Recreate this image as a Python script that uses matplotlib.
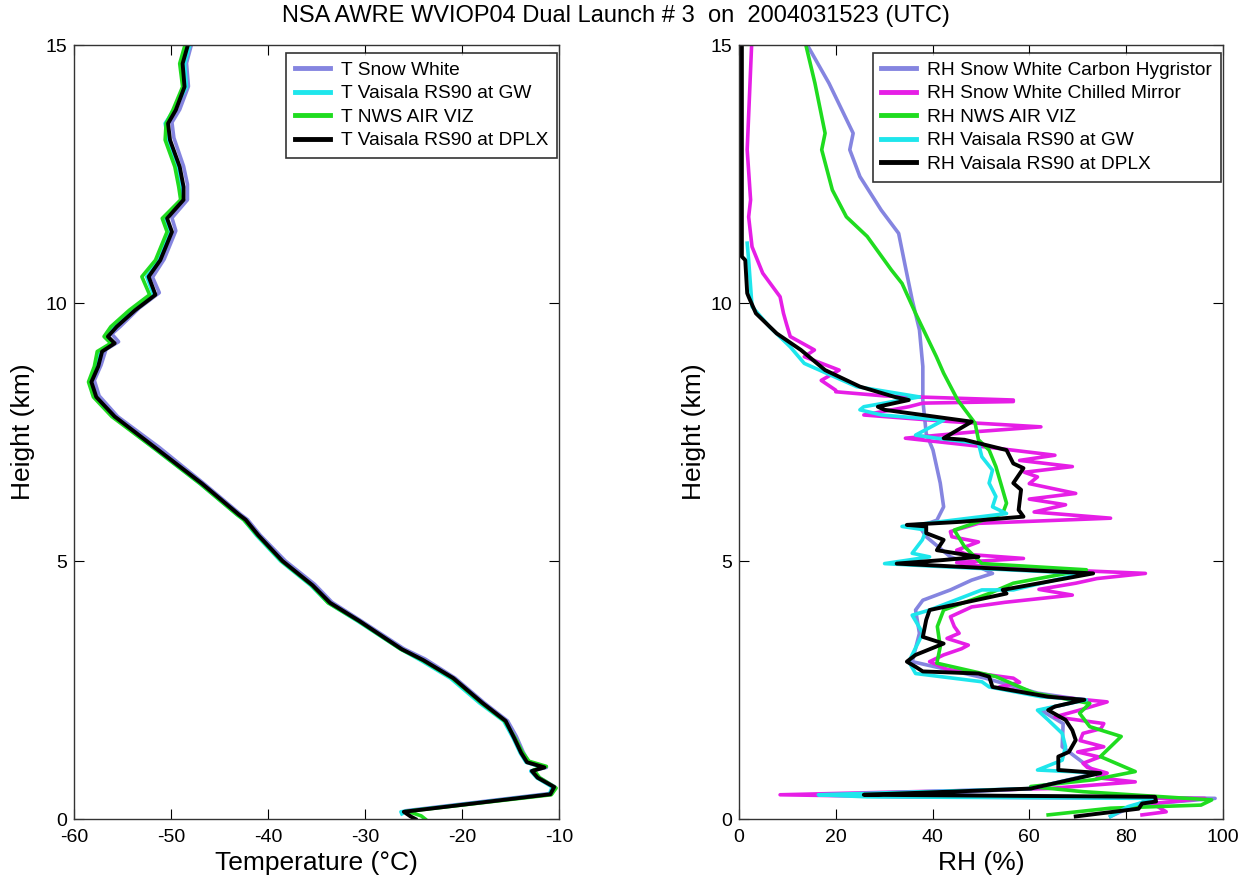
import matplotlib
matplotlib.use("Agg")
import matplotlib.pyplot as plt

plt.rcParams["font.family"] = ["Liberation Sans", "DejaVu Sans"]
plt.rcParams["axes.unicode_minus"] = False

# ---- temperature profiles (height km, T degC) ----
h_dplx = [0.0, 0.05, 0.14, 0.48, 0.62, 0.8, 0.93, 1.0, 1.1, 1.28, 1.56, 1.9, 2.25, 2.73,
          3.08, 3.29, 3.84, 4.19, 4.53, 5.0, 5.5, 5.8, 5.9, 6.5, 7.18, 7.8, 8.18, 8.47,
          8.77, 9.06, 9.22, 9.35, 9.54, 9.86, 10.16, 10.51, 10.83, 11.38, 11.64, 12.0,
          12.25, 12.64, 13.16, 13.48, 13.74, 14.19, 14.64, 14.97]
t_dplx = [-24.8, -25.3, -26.0, -10.9, -10.5, -12.2, -12.8, -11.5, -13.3, -13.9, -14.6,
          -15.5, -17.9, -20.9, -24.0, -26.2, -30.6, -33.6, -35.4, -38.5, -41.0, -42.3,
          -43.0, -46.8, -51.5, -55.8, -57.7, -58.2, -57.5, -57.1, -55.8, -56.5, -55.6,
          -53.7, -51.6, -52.3, -51.1, -49.9, -50.4, -48.7, -48.7, -49.1, -50.1, -50.3,
          -49.5, -48.6, -48.8, -48.3]

h_sw = [0.1, 0.16, 0.5, 0.62, 0.8, 0.93, 1.0, 1.1, 1.3, 1.6, 1.9, 2.25, 2.73, 3.1, 3.3,
        3.84, 4.2, 4.55, 5.0, 5.5, 5.8, 5.9, 6.5, 7.2, 7.8, 8.2, 8.5, 8.8, 9.1, 9.25,
        9.4, 9.55, 9.9, 10.2, 10.5, 10.85, 11.4, 11.65, 12.0, 12.3, 12.65, 13.2, 13.5,
        13.75, 14.2, 14.65, 15.0]
t_sw = [-25.4, -25.8, -10.7, -10.4, -12.0, -12.9, -11.3, -13.1, -13.7, -14.4, -15.3,
        -17.7, -20.7, -23.8, -26.0, -30.4, -33.4, -35.2, -38.2, -40.8, -42.1, -42.8,
        -46.6, -51.2, -55.5, -57.4, -57.9, -57.2, -56.7, -55.4, -56.1, -55.2, -53.3,
        -51.2, -51.9, -50.7, -49.5, -49.9, -48.3, -48.3, -48.7, -49.7, -49.9, -49.1,
        -48.2, -48.4, -47.9]

h_gw = [0.1, 0.14, 0.48, 0.62, 0.8, 0.93, 1.0, 1.1, 1.28, 1.56, 1.9, 2.25, 2.73, 3.08,
        3.3, 3.84, 4.19, 4.53, 5.0, 5.5, 5.8, 5.9, 6.5, 7.18, 7.8, 8.18, 8.47, 8.77,
        9.06, 9.22, 9.35, 9.54, 9.86, 10.16, 10.51, 10.83, 11.38, 11.64, 12.0, 12.25,
        12.64, 13.16, 13.48, 13.74, 14.19, 14.64, 14.97]
t_gw = [-26.2, -26.3, -11.0, -10.7, -12.3, -12.9, -11.7, -13.4, -14.0, -14.7, -15.7,
        -18.2, -21.2, -24.3, -26.4, -30.8, -33.8, -35.6, -38.7, -41.2, -42.5, -43.2,
        -47.0, -51.7, -56.0, -57.9, -58.4, -57.8, -57.4, -56.0, -56.8, -55.9, -53.9,
        -51.8, -52.5, -51.3, -50.1, -50.6, -48.9, -48.9, -49.3, -50.3, -50.6, -49.7,
        -48.4, -48.6, -48.1]

h_nws = [0.0, 0.06, 0.15, 0.47, 0.6, 0.8, 0.95, 1.02, 1.12, 1.3, 1.56, 1.9, 2.25, 2.73,
         3.08, 3.29, 3.84, 4.19, 4.53, 5.0, 5.5, 5.8, 5.9, 6.5, 7.18, 7.8, 8.18, 8.47,
         8.77, 9.06, 9.22, 9.35, 9.54, 9.86, 10.16, 10.51, 10.83, 11.38, 11.64, 12.0,
         12.25, 12.64, 13.16, 13.48, 13.74, 14.19, 14.64, 14.97]
t_nws = [-23.8, -24.2, -25.6, -10.8, -10.3, -12.0, -12.6, -11.3, -13.1, -13.8, -14.5,
         -15.6, -18.0, -21.0, -24.1, -26.3, -30.7, -33.8, -35.5, -38.6, -41.1, -42.5,
         -43.2, -47.0, -51.7, -56.1, -58.0, -58.5, -57.9, -57.6, -56.2, -56.9, -56.2,
         -54.3, -52.2, -53.0, -51.6, -50.4, -50.9, -49.0, -49.2, -49.6, -50.6, -50.5,
         -49.8, -48.8, -49.1, -48.6]

# ---- relative humidity profiles (height km, RH %) ----
h_rh_hyg = [0.05, 0.27, 0.4, 0.47, 0.59, 0.89, 1.4, 1.85, 2.11, 2.31, 2.44, 2.73, 3.05,
            3.6, 4.05, 4.24, 4.44, 4.63, 4.76, 4.89, 5.08, 5.47, 5.67, 5.79, 6.05, 6.51,
            7.15, 7.47, 8.12, 8.77, 9.48, 10.06, 10.7, 11.35, 11.8, 12.45, 12.97, 13.29,
            14.26, 14.97]
rh_hyg = [76.8, 81.9, 98.4, 35.1, 60.3, 74.0, 66.8, 67.0, 62.4, 71.1, 61.7, 50.9, 35.8,
          37.3, 36.5, 38.0, 43.7, 48.1, 52.4, 49.5, 43.7, 38.7, 37.3, 40.9, 42.3, 41.6,
          40.1, 38.7, 38.0, 38.0, 37.3, 35.8, 34.4, 33.0, 29.4, 25.0, 22.9, 23.6, 18.6,
          14.3]

h_rh_cm = [0.08, 0.14, 0.3, 0.4, 0.43, 0.47, 0.59, 0.72, 0.8, 0.89, 1.0, 1.08, 1.2, 1.3,
           1.4, 1.52, 1.66, 1.75, 1.85, 1.98, 2.1, 2.27, 2.4, 2.56, 2.65, 2.73, 2.9, 3.05,
           3.18, 3.3, 3.37, 3.5, 3.6, 3.73, 3.92, 4.11, 4.2, 4.34, 4.45, 4.57, 4.66, 4.76,
           4.89, 4.97, 5.05, 5.13, 5.21, 5.37, 5.47, 5.57, 5.73, 5.83, 5.95, 6.09, 6.2,
           6.31, 6.5, 6.63, 6.72, 6.83, 6.95, 7.05, 7.2, 7.38, 7.51, 7.6, 7.7, 7.83, 7.99,
           8.06, 8.09, 8.12, 8.2, 8.28, 8.31, 8.5, 8.7, 8.96, 9.09, 9.35, 9.6, 9.8, 10.12,
           10.58, 11.09, 11.67, 12.0, 12.97, 14.97]
rh_cm = [83.3, 88.3, 85.5, 96.3, 35.1, 8.5, 63.9, 81.9, 74.0, 76.1, 72.0, 71.1, 74.5,
         70.0, 75.4, 70.5, 71.1, 74.8, 75.4, 65.3, 70.0, 76.1, 62.0, 53.8, 58.0, 56.7,
         43.0, 39.4, 42.3, 46.0, 47.4, 43.0, 45.5, 44.5, 43.7, 48.1, 55.0, 68.9, 62.0,
         69.6, 74.0, 84.0, 51.0, 45.0, 58.8, 47.0, 45.0, 49.5, 44.0, 43.7, 49.5, 76.8,
         61.0, 67.5, 60.0, 69.6, 60.0, 61.7, 59.0, 68.9, 58.0, 65.3, 52.0, 34.4, 49.5,
         62.4, 44.0, 25.8, 35.1, 38.0, 56.7, 56.7, 30.0, 20.0, 20.0, 17.0, 20.7, 13.5,
         15.6, 10.6, 9.8, 9.2, 8.5, 4.9, 2.7, 2.0, 2.4, 1.7, 2.6]

h_rh_nws = [0.08, 0.21, 0.27, 0.37, 0.53, 0.63, 0.76, 0.92, 1.21, 1.6, 1.79, 2.05, 2.24,
            2.44, 2.76, 3.02, 3.34, 3.73, 4.05, 4.37, 4.57, 4.83, 4.95, 5.28, 5.6, 5.92,
            6.12, 6.38, 6.83, 7.15, 7.35, 7.67, 8.12, 8.64, 8.96, 9.8, 10.38, 10.64,
            11.29, 11.67, 12.19, 12.97, 13.29, 14.26, 14.97]
rh_nws = [63.9, 76.8, 95.5, 97.7, 71.1, 60.3, 73.2, 81.9, 74.7, 79.0, 72.5, 70.4, 72.5,
          61.0, 53.1, 40.9, 41.6, 41.0, 42.3, 51.7, 56.7, 71.8, 50.2, 46.6, 44.5, 54.5,
          55.3, 54.5, 53.1, 51.7, 49.5, 48.8, 45.2, 42.3, 40.8, 36.5, 33.7, 31.5, 26.5,
          22.2, 19.3, 17.1, 17.8, 15.7, 13.9]

h_rh_gw = [0.05, 0.24, 0.3, 0.4, 0.43, 0.47, 0.59, 0.89, 0.95, 1.14, 1.4, 1.66, 1.92,
           2.11, 2.31, 2.37, 2.56, 2.66, 2.82, 3.05, 3.6, 3.95, 4.05, 4.44, 4.44, 4.76,
           4.89, 4.95, 5.08, 5.15, 5.41, 5.6, 5.67, 5.92, 6.05, 6.25, 6.51, 6.76, 7.02,
           7.28, 7.38, 7.44, 7.73, 7.83, 7.93, 7.99, 8.18, 8.38, 8.83, 9.15, 9.54, 9.93,
           10.83, 11.16]
rh_gw = [76.8, 80.4, 82.6, 85.5, 26.5, 16.4, 60.3, 74.7, 61.7, 66.8, 67.5, 66.8, 63.9,
         61.7, 71.8, 62.4, 51.7, 50.2, 36.5, 35.1, 38.0, 35.8, 39.4, 50.2, 56.7, 71.1,
         42.3, 30.1, 39.4, 35.8, 37.9, 38.7, 33.7, 55.3, 52.4, 53.1, 51.7, 52.4, 50.2,
         49.5, 40.8, 36.5, 42.3, 29.5, 25.0, 25.8, 37.3, 24.3, 13.5, 10.6, 6.3, 2.7, 2.0,
         1.7]

h_rh_dplx = [0.05, 0.2, 0.3, 0.34, 0.43, 0.47, 0.53, 0.59, 0.89, 0.95, 1.21, 1.3, 1.53,
             1.72, 1.92, 2.11, 2.18, 2.31, 2.37, 2.56, 2.76, 2.82, 2.86, 2.95, 3.05, 3.18,
             3.4, 3.53, 3.86, 4.05, 4.37, 4.44, 4.76, 4.95, 5.02, 5.08, 5.21, 5.41, 5.54,
             5.67, 5.7, 5.76, 5.86, 5.99, 6.38, 6.51, 6.8, 6.89, 7.15, 7.35, 7.38, 7.7,
             7.93, 7.99, 8.12, 8.18, 8.38, 8.7, 9.09, 9.41, 9.8, 10.12, 10.19, 10.83,
             10.9, 12.97, 14.97]
rh_dplx = [69.6, 82.6, 83.3, 86.2, 86.0, 25.8, 43.7, 60.3, 74.7, 66.0, 66.0, 68.2, 69.6,
           68.9, 67.5, 63.9, 65.3, 71.4, 63.9, 52.4, 51.7, 49.5, 38.0, 36.5, 34.7, 36.5,
           42.3, 38.0, 38.7, 39.4, 55.3, 54.5, 73.2, 32.6, 42.3, 49.5, 40.9, 42.3, 38.7,
           38.7, 34.7, 45.9, 58.8, 57.8, 58.3, 56.7, 58.8, 56.7, 55.3, 46.6, 42.3, 48.1,
           30.1, 28.7, 35.1, 32.2, 25.0, 17.8, 12.8, 7.8, 3.5, 2.0, 1.7, 1.3, 0.6, 0.6,
           0.6]

C_SW = "#8585e0"
C_CYAN = "#1ee6ec"
C_GREEN = "#1fdc1f"
C_MAG = "#e61ee6"

fig = plt.figure(figsize=(12.47, 8.86), dpi=100)
ax1 = fig.add_axes([0.0593, 0.0756, 0.389, 0.8736])
ax2 = fig.add_axes([0.5926, 0.0756, 0.388, 0.8736])

ax1.plot(t_sw, h_sw, color=C_SW, lw=2.6, label="T Snow White")
ax1.plot(t_gw, h_gw, color=C_CYAN, lw=2.6, label="T Vaisala RS90 at GW")
ax1.plot(t_nws, h_nws, color=C_GREEN, lw=2.6, label="T NWS AIR VIZ")
ax1.plot(t_dplx, h_dplx, color="black", lw=2.8, label="T Vaisala RS90 at DPLX")
ax1.set_xlim(-60, -10)
ax1.set_xticks([-60, -50, -40, -30, -20, -10])
ax1.set_xlabel("Temperature (\u00b0C)", fontsize=19)

ax2.plot(rh_hyg, h_rh_hyg, color=C_SW, lw=2.6, label="RH Snow White Carbon Hygristor")
ax2.plot(rh_cm, h_rh_cm, color=C_MAG, lw=2.6, label="RH Snow White Chilled Mirror")
ax2.plot(rh_nws, h_rh_nws, color=C_GREEN, lw=2.6, label="RH NWS AIR VIZ")
ax2.plot(rh_gw, h_rh_gw, color=C_CYAN, lw=2.6, label="RH Vaisala RS90 at GW")
ax2.plot(rh_dplx, h_rh_dplx, color="black", lw=2.8, label="RH Vaisala RS90 at DPLX")
ax2.set_xlim(0, 100)
ax2.set_xticks([0, 20, 40, 60, 80, 100])
ax2.set_xlabel("RH (%)", fontsize=19)

for ax in (ax1, ax2):
    ax.set_ylim(0, 15)
    ax.set_yticks([0, 5, 10, 15])
    ax.set_ylabel("Height (km)", fontsize=19)
    ax.tick_params(direction="in", top=True, right=True, length=7, width=0.8,
                   labelsize=14)
    ax.tick_params(axis="x", pad=7)
    ax.tick_params(axis="y", pad=5)
    for sp in ax.spines.values():
        sp.set_linewidth(1.0)
        sp.set_color("#333333")
    leg = ax.legend(loc="upper right", bbox_to_anchor=(0.996, 0.99), fontsize=13.8,
                    frameon=True, fancybox=False, borderaxespad=0.0, handlelength=1.8,
                    handletextpad=0.6, labelspacing=0.32, borderpad=0.45)
    leg.get_frame().set_edgecolor("black")
    leg.get_frame().set_linewidth(1.2)
    for ln in leg.get_lines():
        ln.set_linewidth(3.5)

ax1.yaxis.set_label_coords(-0.08, 0.5)
ax2.yaxis.set_label_coords(-0.068, 0.5)

fig.text(0.494, 0.982, "NSA AWRE WVIOP04 Dual Launch # 3  on  2004031523 (UTC)",
         ha="center", va="center", fontsize=17)

fig.savefig("out.png", dpi=100)
